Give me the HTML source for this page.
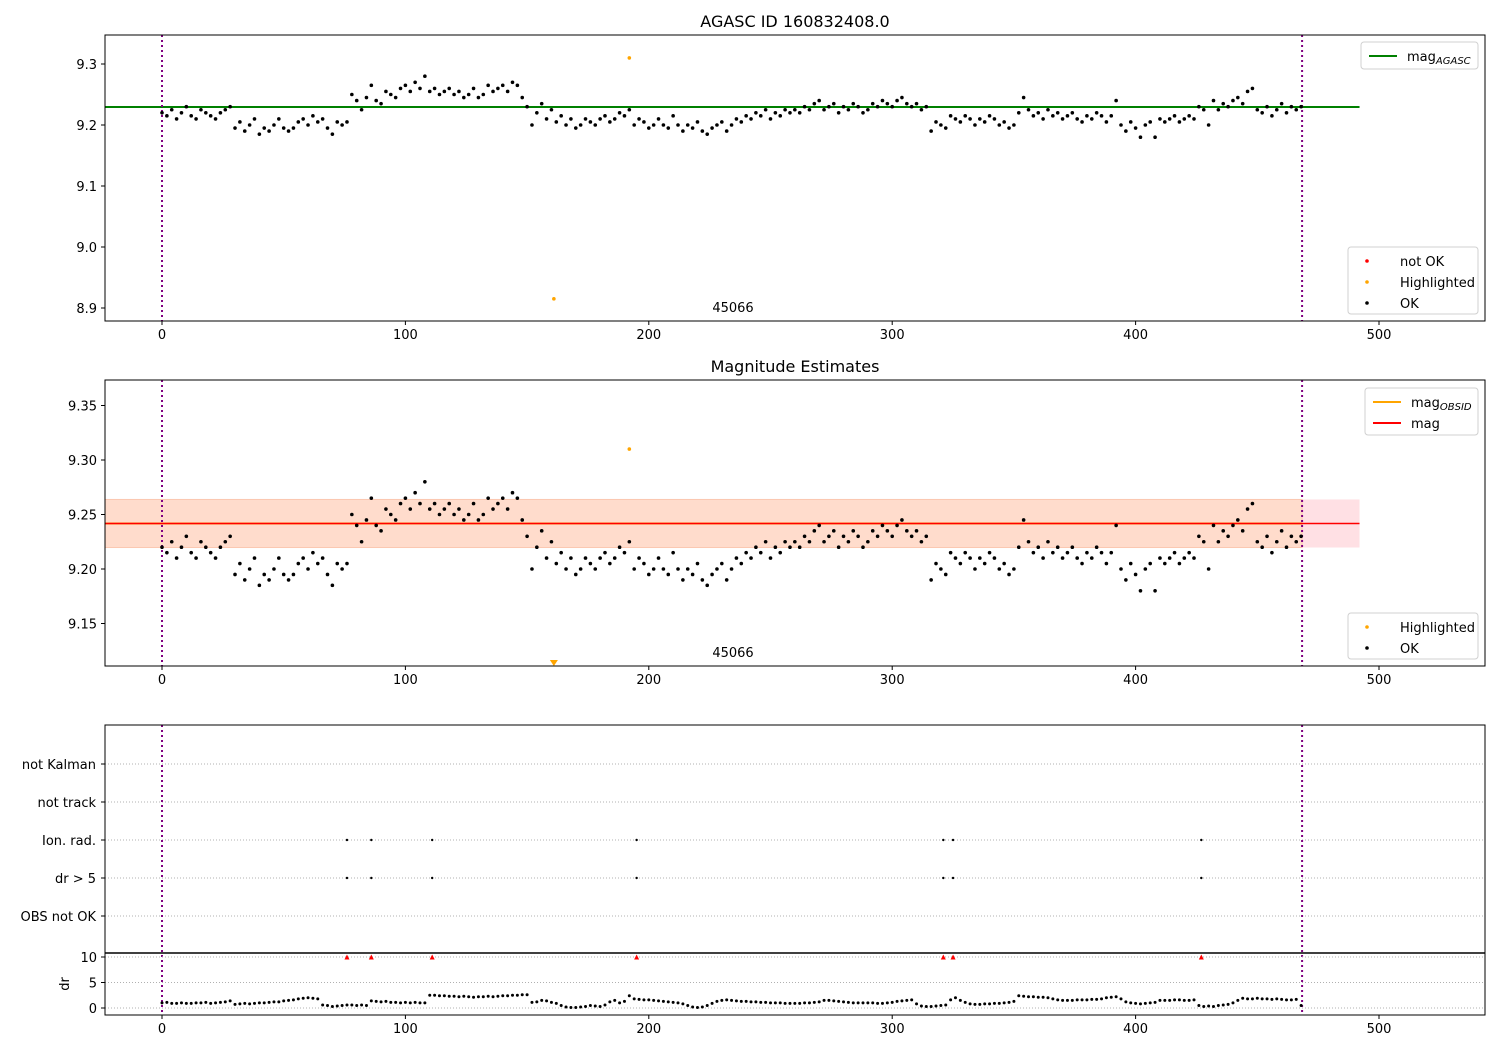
<!DOCTYPE html>
<html><head><meta charset="utf-8"><style>
body{margin:0;background:#fff;}
svg{display:block;font-family:"DejaVu Sans","Liberation Sans",sans-serif;}
</style></head><body>
<svg id="c" width="1500" height="1050" viewBox="0 0 1500 1050" xmlns="http://www.w3.org/2000/svg"></svg>
<script>
const mags = [9.22,9.215,9.225,9.21,9.22,9.23,9.215,9.21,9.225,9.22,9.215,9.21,9.22,9.225,9.23,
9.195,9.205,9.19,9.2,9.21,9.185,9.195,9.19,9.2,9.21,9.195,9.19,9.195,9.205,9.21,9.2,9.215,9.205,
9.21,9.195,9.185,9.205,9.2,9.205,
9.25,9.24,9.225,9.245,9.265,9.24,9.235,9.255,9.25,9.245,9.26,9.265,9.255,9.27,9.26,9.28,9.255,9.26,9.25,9.255,9.26,9.25,9.255,9.245,9.25,9.26,9.245,9.25,9.265,9.255,9.26,9.265,9.255,9.27,9.265,9.245,
9.23,9.2,9.22,9.235,9.21,9.225,9.205,9.215,9.2,9.21,9.195,9.2,9.21,9.205,9.2,9.21,9.215,9.205,9.21,9.22,9.215,
9.225,9.2,9.21,9.205,9.195,9.2,9.21,9.2,9.195,9.215,9.2,9.19,9.2,9.195,9.205,9.19,9.185,9.195,9.2,9.205,9.19,9.2,9.21,9.205,
9.215,9.21,9.22,9.215,9.225,9.21,9.22,9.215,9.225,9.22,
9.225,9.22,9.23,9.225,9.235,9.24,9.225,9.23,9.235,9.22,9.23,9.225,9.235,9.23,9.22,9.225,9.235,9.23,9.24,9.235,9.23,9.24,9.245,9.235,9.23,
9.235,9.225,9.23,9.19,9.205,9.2,9.195,9.215,9.21,9.205,9.215,9.21,9.2,9.21,9.205,9.215,9.21,9.2,9.205,9.195,9.2,
9.22,9.245,9.225,9.215,9.22,9.21,9.225,9.215,9.22,9.21,9.215,9.22,9.21,9.205,9.215,9.21,9.22,9.215,9.205,
9.215,9.24,9.2,9.19,9.205,9.195,9.18,9.2,
9.205,9.18,9.21,9.205,9.21,9.215,9.205,9.21,9.215,9.21,
9.23,9.225,9.2,9.24,9.225,9.235,9.23,9.24,9.245,9.235,9.255,
9.26,9.225,9.22,9.23,9.215,9.225,9.235,9.22,9.23,9.225,9.23];
const drs = [1.0,1.1,0.9,0.9,1.0,0.9,0.9,1.0,1.0,1.1,0.9,1.0,1.1,1.2,1.4,
0.7,0.8,0.9,0.8,0.9,1.0,1.0,1.1,1.2,1.2,1.4,1.5,1.6,1.8,1.9,2.0,1.9,1.8,
0.6,0.5,0.3,0.4,0.5,0.6,
0.6,0.5,0.6,0.5,1.4,1.3,1.2,1.3,1.1,1.1,1.0,1.1,1.0,1.1,1.0,1.0,2.5,2.5,2.4,2.4,2.3,2.3,2.2,2.3,2.2,2.1,2.2,2.2,2.3,2.2,2.3,2.4,2.4,2.5,2.5,2.6,
2.6,1.1,1.2,1.5,1.4,1.1,0.9,0.5,0.2,0.1,0.1,0.2,0.3,0.5,0.4,0.3,0.6,1.2,1.5,1.0,1.3,
2.4,1.8,1.7,1.6,1.6,1.5,1.4,1.3,1.2,1.1,1.0,0.8,0.5,0.2,0.1,0.2,0.5,0.9,1.3,1.5,1.6,1.5,1.4,1.3,
1.3,1.2,1.2,1.1,1.1,1.0,1.0,1.0,0.9,0.9,
0.9,0.9,1.0,1.0,1.1,1.2,1.5,1.5,1.4,1.3,1.2,1.1,1.0,1.0,1.0,1.0,1.0,0.9,0.9,1.0,1.1,1.3,1.4,1.5,1.6,
0.8,0.4,0.3,0.3,0.4,0.5,0.6,1.6,2.0,1.5,1.1,0.8,0.7,0.7,0.8,0.8,0.9,0.9,1.0,1.1,1.3,
2.4,2.3,2.2,2.2,2.1,2.1,2.0,1.8,1.6,1.5,1.5,1.5,1.6,1.6,1.6,1.7,1.7,1.8,2.0,
2.1,2.2,1.8,1.2,1.0,0.9,0.8,0.9,
1.0,1.1,1.5,1.5,1.5,1.6,1.6,1.5,1.5,1.6,
0.5,0.3,0.4,0.3,0.5,0.6,0.7,1.0,1.5,1.9,1.8,
1.8,1.9,1.8,1.8,1.7,1.8,1.7,1.6,1.6,1.7,0.5];
const highlightT = [192, 161];
const highlightMag = [9.31, 8.915];
const flagTimes = [76, 86, 111, 195, 321, 325, 427];
const flagCats = ["not Kalman", "not track", "Ion. rad.", "dr > 5", "OBS not OK"];
const xTicks = [0, 100, 200, 300, 400, 500];
const y1Ticks = [9.3, 9.2, 9.1, 9.0, 8.9];
const y2Ticks = [9.35, 9.30, 9.25, 9.20, 9.15];
const drTicks = [10, 5, 0];
const magAgasc = 9.2295, magObs = 9.2417, bandLo = 9.2197, bandHi = 9.2638;
const tStart = 0, tEnd = 468.4, lineEnd = 492;

const svg = document.getElementById('c');
const NS = 'http://www.w3.org/2000/svg';
function mk(tag, a, parent){const e=document.createElementNS(NS,tag);for(const k in a)e.setAttribute(k,a[k]);(parent||svg).appendChild(e);return e;}
const X = t => 162 + t*2.434;
const Y1 = m => 125 - (m-9.2)*610;
const Y2 = m => 569 - (m-9.2)*1090;
const YD = d => 1008 - d*5.1;
const L=105,R=1485;

function frame(top,bot,name){const r=mk('rect',{x:L,y:top,width:R-L,height:bot-top,fill:'none',stroke:'#000','stroke-width':1});
}
function xAxis(bot){for(const v of xTicks){mk('line',{x1:X(v),x2:X(v),y1:bot,y2:bot+4,stroke:'#000'});
const t=mk('text',{x:X(v),y:bot+18,'font-size':13,'text-anchor':'middle'});t.textContent=v;}}
function yAxis(ticks,f,fmt){for(const v of ticks){const y=f(v);mk('line',{x1:L-4,x2:L,y1:y,y2:y,stroke:'#000'});
const t=mk('text',{x:L-8,y:y+5,'font-size':13,'text-anchor':'end'});t.textContent=fmt(v);}}
function vlines(top,bot){for(const t of [tStart,tEnd]){const l=mk('line',{x1:X(t),x2:X(t),y1:top,y2:bot,stroke:'#800080','stroke-width':2,'stroke-dasharray':'2,3'});}}
function title(x,y,s,name){const t=mk('text',{x:x,y:y,'font-size':16,'text-anchor':'middle'});t.textContent=s;}

// Panel 1
title(795,27,'AGASC ID 160832408.0','panel1-title');
let g=mk('g',{}); 
mk('line',{x1:L,x2:X(lineEnd),y1:Y1(magAgasc),y2:Y1(magAgasc),stroke:'#008000','stroke-width':2},g);
vlines(35,321);
g=mk('g',{}); 
mags.forEach((m,i)=>{const c=mk('circle',{cx:X(i*2),cy:Y1(m),r:1.8,fill:'#000'},g);});
highlightT.forEach((t,i)=>{const c=mk('circle',{cx:X(t),cy:Y1(highlightMag[i]),r:1.8,fill:'orange'});});
let tx=mk('text',{x:733,y:312,'font-size':13,'text-anchor':'middle'});tx.textContent='45066';
frame(35,321,'panel1-axes');xAxis(321);yAxis(y1Ticks,Y1,v=>v.toFixed(1));

// Panel 2
title(795,372,'Magnitude Estimates','panel2-title');
g=mk('g',{});
mk('rect',{x:L,y:Y2(bandHi),width:X(lineEnd)-L,height:Y2(bandLo)-Y2(bandHi),fill:'#ffe0e4'},g);
mk('rect',{x:L,y:Y2(bandHi),width:X(tEnd)-L,height:Y2(bandLo)-Y2(bandHi),fill:'#ffdccc',stroke:'#fbc8b0'},g);
g=mk('g',{});
mk('line',{x1:L,x2:X(tEnd),y1:Y2(magObs),y2:Y2(magObs),stroke:'orange','stroke-width':2},g);
mk('line',{x1:L,x2:X(lineEnd),y1:Y2(magObs),y2:Y2(magObs),stroke:'red','stroke-width':1.5},g);
vlines(380,666);
g=mk('g',{});
mags.forEach((m,i)=>{mk('circle',{cx:X(i*2),cy:Y2(m),r:1.8,fill:'#000'},g);});
highlightT.forEach((t,i)=>{const m=highlightMag[i];let c;
 if(Y2(m)>666){c=mk('path',{d:`M${X(t)-4},660 L${X(t)+4},660 L${X(t)},666 Z`,fill:'orange'});}
 else c=mk('circle',{cx:X(t),cy:Y2(m),r:1.8,fill:'orange'});
 });
tx=mk('text',{x:733,y:657,'font-size':13,'text-anchor':'middle'});tx.textContent='45066';
frame(380,666,'panel2-axes');xAxis(666);yAxis(y2Ticks,Y2,v=>v.toFixed(2));

// Panel 3 flags
flagCats.forEach((c,i)=>{const y=764+i*38;mk('line',{x1:L,x2:R,y1:y,y2:y,stroke:'#b0b0b0','stroke-dasharray':'1,2'});
 mk('line',{x1:L-4,x2:L,y1:y,y2:y,stroke:'#000'});
 const t=mk('text',{x:96,y:y+5,'font-size':13,'text-anchor':'end'});t.textContent=c;});
vlines(725,1015);
g=mk('g',{});
flagTimes.forEach(t=>{mk('circle',{cx:X(t),cy:840,r:1.2,fill:'#000'},g);mk('circle',{cx:X(t),cy:878,r:1.2,fill:'#000'},g);});
frame(725,953,'flags-axes');
// dr panel
[10,5,0].forEach(v=>mk('line',{x1:L,x2:R,y1:YD(v),y2:YD(v),stroke:'#b0b0b0','stroke-dasharray':'1,2'}));
g=mk('g',{});
drs.forEach((d,i)=>{mk('circle',{cx:X(i*2),cy:YD(d),r:1.5,fill:'#000'},g);});
g=mk('g',{});
flagTimes.forEach(t=>{mk('path',{d:`M${X(t)-2.5},${YD(10)+2.5} L${X(t)+2.5},${YD(10)+2.5} L${X(t)},${YD(10)-2.5} Z`,fill:'red'},g);});
frame(953,1015,'dr-axes');
mk('line',{x1:L,x2:R,y1:953,y2:953,stroke:'#000','stroke-width':1.5});
xAxis(1015);yAxis(drTicks,YD,v=>v);
tx=mk('text',{x:0,y:0,'font-size':13,'text-anchor':'middle',transform:'translate(69,984) rotate(-90)'});tx.textContent='dr';

// Legends
function legend(x,y,w,h,items,name){const lg=mk('g',{});
 mk('rect',{x:x,y:y,width:w,height:h,rx:3,fill:'#fff','fill-opacity':0.85,stroke:'#d0d0d0'},lg);
 items.forEach((it,i)=>{const cy=y+14+i*21;
  if(it.type==='line')mk('line',{x1:x+8,x2:x+36,y1:cy,y2:cy,stroke:it.c,'stroke-width':2},lg);
  else mk('circle',{cx:x+19,cy:cy,r:1.8,fill:it.c},lg);
  const t=mk('text',{x:x+(it.type==='line'?46:52),y:cy+5,'font-size':13},lg);t.textContent=it.label;
  if(it.sub){const s=mk('tspan',{'font-size':10,'font-style':'italic',dy:3},t);s.textContent=it.sub;}
  });}
legend(1361,42,117,27,[{type:'line',c:'#008000',label:'mag',sub:'AGASC'}],'legend-agasc');
legend(1348,247,130,67,[{type:'pt',c:'red',label:'not OK'},{type:'pt',c:'orange',label:'Highlighted'},{type:'pt',c:'#000',label:'OK'}],'legend-points-1');
legend(1365,388,113,47,[{type:'line',c:'orange',label:'mag',sub:'OBSID'},{type:'line',c:'red',label:'mag'}],'legend-mag');
legend(1348,613,130,46,[{type:'pt',c:'orange',label:'Highlighted'},{type:'pt',c:'#000',label:'OK'}],'legend-points-2');
</script>
</body></html>
